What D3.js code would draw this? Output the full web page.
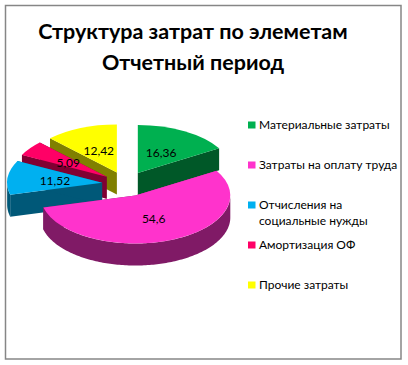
<!DOCTYPE html>
<html>
<head>
<meta charset="utf-8">
<script src="https://cdn.jsdelivr.net/npm/d3@7"></script>
<style>
  body { margin: 0; background: #fff; }
  text { font-family: Lato, "Noto Sans", sans-serif; fill: #000; }
</style>
</head>
<body>
<svg id="chart" width="408" height="365"></svg>
<script>
const categories = ["Материальные затраты", "Затраты на оплату труда", "Отчисления на социальные нужды", "Амортизация ОФ", "Прочие затраты"];
const legendLines = [["Материальные затраты"], ["Затраты на оплату труда"], ["Отчисления на", "социальные нужды"], ["Амортизация ОФ"], ["Прочие затраты"]];
const values = [16.36, 54.6, 11.52, 5.09, 12.42];
const valueLabels = ["16,36", "54,6", "11,52", "5,09", "12,42"];
const colors = ["#00b050", "#ff33cc", "#00b0f0", "#ff0066", "#ffff00"];
const titleLines = ["Структура затрат по элеметам", "Отчетный период"];

const settings = {
  centerX: 126, centerY: 184,
  radiusX: 95, radiusY: 48,
  explodeX: 24, explodeY: 12.5,
  depth: 22
};

const svg = d3.select("#chart");

svg.append("rect")
  .attr("x", 5.5).attr("y", 5.5)
  .attr("width", 395.5).attr("height", 353.5)
  .attr("fill", "#fff")
  .attr("stroke", "#868686")
  .attr("stroke-width", 1.5);

svg.selectAll("text.title")
  .data(titleLines)
  .enter()
  .append("text")
  .attr("class", "title")
  .attr("x", 193)
  .attr("y", (d, i) => 38.5 + i * 31)
  .attr("text-anchor", "middle")
  .attr("font-size", 21.5)
  .attr("font-weight", 700)
  .text(d => d);

function sideColor(color) {
  const c = d3.rgb(color);
  return d3.rgb(c.r * 0.5, c.g * 0.5, c.b * 0.5).formatHex();
}

const pie = d3.pie().sort(null);
const slices = pie(values).map((s, i) => {
  const mid = (s.startAngle + s.endAngle) / 2;
  return {
    ...s,
    index: i,
    cx: settings.centerX + Math.sin(mid) * settings.explodeX,
    cy: settings.centerY - Math.cos(mid) * settings.explodeY
  };
});

const arc = d3.arc().innerRadius(0).outerRadius(1);
const line = d3.line();

const rimPoint = (s, angle, drop = 0) => [
  s.cx + Math.sin(angle) * settings.radiusX,
  s.cy - Math.cos(angle) * settings.radiusY + drop
];

function radialFace(s, angle) {
  return line([
    [s.cx, s.cy],
    rimPoint(s, angle),
    rimPoint(s, angle, settings.depth),
    [s.cx, s.cy + settings.depth]
  ]) + "Z";
}

// only the part of the rim facing the viewer, 90..270 degrees
function wall(s) {
  const from = Math.max(s.startAngle, Math.PI / 2);
  const to = Math.min(s.endAngle, Math.PI * 1.5);
  if (from >= to) return null;
  const angles = d3.range(from, to, 0.02).concat([to]);
  const upper = angles.map(a => rimPoint(s, a));
  const lower = angles.slice().reverse().map(a => rimPoint(s, a, settings.depth));
  return line(upper.concat(lower)) + "Z";
}

// back slices first so the front ones cover them
const ordered = slices.slice().sort((a, b) => a.cy - b.cy);

const groups = svg.selectAll("g.slice")
  .data(ordered)
  .enter()
  .append("g")
  .attr("class", "slice");

groups.each(function(s) {
  const g = d3.select(this);
  const dark = sideColor(colors[s.index]);
  g.append("path").attr("d", radialFace(s, s.startAngle)).attr("fill", dark);
  g.append("path").attr("d", radialFace(s, s.endAngle)).attr("fill", dark);
  const w = wall(s);
  if (w) g.append("path").attr("d", w).attr("fill", dark);
  g.append("path")
    .attr("d", arc(s))
    .attr("transform", `translate(${s.cx},${s.cy}) scale(${settings.radiusX},${settings.radiusY})`)
    .attr("fill", colors[s.index]);
});

svg.selectAll("text.value")
  .data(slices)
  .enter()
  .append("text")
  .attr("class", "value")
  .attr("x", s => s.cx + arc.centroid(s)[0] * settings.radiusX)
  .attr("y", s => s.cy + arc.centroid(s)[1] * settings.radiusY + 5)
  .attr("text-anchor", "middle")
  .attr("font-size", 12)
  .text(s => valueLabels[s.index]);

const legendY = d3.scalePoint().domain(categories).range([125, 285]);

const legend = svg.selectAll("g.legend")
  .data(categories)
  .enter()
  .append("g")
  .attr("class", "legend")
  .attr("transform", d => `translate(248,${legendY(d)})`);

legend.append("rect")
  .attr("x", 0).attr("y", -3.5)
  .attr("width", 7.5).attr("height", 7)
  .attr("fill", (d, i) => colors[i]);

legend.each(function(d, i) {
  d3.select(this).selectAll("text")
    .data(legendLines[i])
    .enter()
    .append("text")
    .attr("x", 11)
    .attr("y", (t, j) => 4 + j * 16)
    .attr("font-size", 12)
    .text(t => t);
});
</script>
</body>
</html>
